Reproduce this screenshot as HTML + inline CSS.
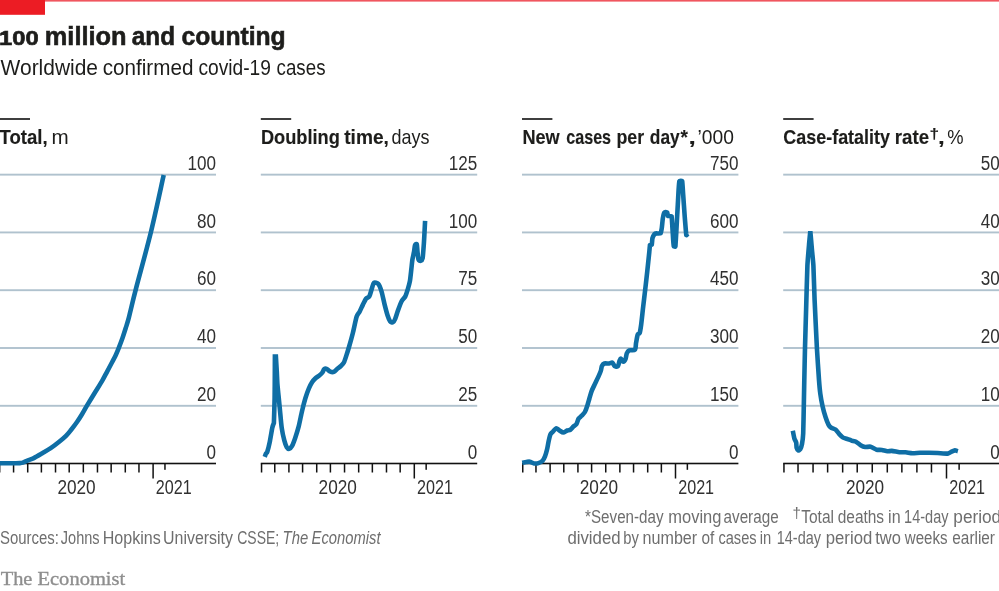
<!DOCTYPE html>
<html lang="en"><head><meta charset="utf-8"><title>100 million and counting</title>
<style>html,body{margin:0;padding:0;background:#fff}body{width:999px;height:591px;overflow:hidden}svg{display:block;will-change:transform;font-family:"Liberation Sans",sans-serif}</style></head><body>
<svg width="999" height="591" viewBox="0 0 999 591">
<rect width="999" height="591" fill="#fff"/>
<rect x="0" y="0" width="999" height="1.6" fill="#f0565f"/>
<rect x="0" y="0" width="45" height="14.8" fill="#ec1c24"/>
<text x="-1.0" y="44.6" font-size="19.4" fill="#1d1d1b" stroke="#1d1d1b" stroke-width="0.6" textLength="39.6" lengthAdjust="spacingAndGlyphs" font-weight="bold">100</text>
<text x="44.8" y="44.6" font-size="25.5" fill="#1d1d1b" stroke="#1d1d1b" stroke-width="0.6" textLength="81.8" lengthAdjust="spacingAndGlyphs" font-weight="bold">million</text>
<text x="131.8" y="44.6" font-size="25.5" fill="#1d1d1b" stroke="#1d1d1b" stroke-width="0.6" textLength="43.2" lengthAdjust="spacingAndGlyphs" font-weight="bold">and</text>
<text x="181.5" y="44.6" font-size="25.5" fill="#1d1d1b" stroke="#1d1d1b" stroke-width="0.6" textLength="104.2" lengthAdjust="spacingAndGlyphs" font-weight="bold">counting</text>
<text x="0.6" y="74.8" font-size="21.7" fill="#1d1d1b" textLength="97.4" lengthAdjust="spacingAndGlyphs">Worldwide</text>
<text x="102.7" y="74.8" font-size="21.7" fill="#1d1d1b" textLength="90.7" lengthAdjust="spacingAndGlyphs">confirmed</text>
<text x="198.4" y="74.8" font-size="21.7" fill="#1d1d1b" textLength="72.5" lengthAdjust="spacingAndGlyphs">covid-19</text>
<text x="276.6" y="74.8" font-size="21.7" fill="#1d1d1b" textLength="48.9" lengthAdjust="spacingAndGlyphs">cases</text>
<text x="-0.5" y="144.4" font-size="20.2" fill="#1d1d1b" stroke="#1d1d1b" stroke-width="0.15" textLength="48.1" lengthAdjust="spacingAndGlyphs" font-weight="bold">Total,</text>
<text x="51.4" y="144.4" font-size="20.2" fill="#1d1d1b" textLength="17.2" lengthAdjust="spacingAndGlyphs">m</text>
<text x="260.9" y="144.4" font-size="20.2" fill="#1d1d1b" stroke="#1d1d1b" stroke-width="0.15" textLength="78.9" lengthAdjust="spacingAndGlyphs" font-weight="bold">Doubling</text>
<text x="344.2" y="144.4" font-size="20.2" fill="#1d1d1b" stroke="#1d1d1b" stroke-width="0.15" textLength="44.7" lengthAdjust="spacingAndGlyphs" font-weight="bold">time,</text>
<text x="391.6" y="144.4" font-size="20.2" fill="#1d1d1b" textLength="38.0" lengthAdjust="spacingAndGlyphs">days</text>
<text x="522.4" y="144.4" font-size="20.2" fill="#1d1d1b" stroke="#1d1d1b" stroke-width="0.15" textLength="37.3" lengthAdjust="spacingAndGlyphs" font-weight="bold">New</text>
<text x="566.2" y="144.4" font-size="20.2" fill="#1d1d1b" stroke="#1d1d1b" stroke-width="0.15" textLength="44.9" lengthAdjust="spacingAndGlyphs" font-weight="bold">cases</text>
<text x="616.4" y="144.4" font-size="20.2" fill="#1d1d1b" stroke="#1d1d1b" stroke-width="0.15" textLength="27.7" lengthAdjust="spacingAndGlyphs" font-weight="bold">per</text>
<text x="649.8" y="144.4" font-size="20.2" fill="#1d1d1b" stroke="#1d1d1b" stroke-width="0.15" textLength="29.9" lengthAdjust="spacingAndGlyphs" font-weight="bold">day</text>
<text x="680.5" y="144.4" font-size="20.2" fill="#1d1d1b" stroke="#1d1d1b" stroke-width="0.15" textLength="7.4" lengthAdjust="spacingAndGlyphs" font-weight="bold">*</text>
<text x="688.6" y="144.4" font-size="20.2" fill="#1d1d1b" stroke="#1d1d1b" stroke-width="0.15" textLength="7.3" lengthAdjust="spacingAndGlyphs" font-weight="bold">,</text>
<text x="697.5" y="144.4" font-size="20.2" fill="#1d1d1b" textLength="36.4" lengthAdjust="spacingAndGlyphs">’000</text>
<text x="783.3" y="144.4" font-size="20.2" fill="#1d1d1b" stroke="#1d1d1b" stroke-width="0.15" textLength="106.7" lengthAdjust="spacingAndGlyphs" font-weight="bold">Case-fatality</text>
<text x="894.8" y="144.4" font-size="20.2" fill="#1d1d1b" stroke="#1d1d1b" stroke-width="0.15" textLength="34.3" lengthAdjust="spacingAndGlyphs" font-weight="bold">rate</text>
<text x="929.4" y="138.6" font-size="14.5" fill="#1d1d1b" stroke="#1d1d1b" stroke-width="0.15" textLength="9.6" lengthAdjust="spacingAndGlyphs" font-weight="bold">†</text>
<text x="937.9" y="144.4" font-size="20.2" fill="#1d1d1b" stroke="#1d1d1b" stroke-width="0.15" textLength="6.7" lengthAdjust="spacingAndGlyphs" font-weight="bold">,</text>
<text x="947.3" y="144.4" font-size="20.2" fill="#1d1d1b" textLength="16.3" lengthAdjust="spacingAndGlyphs">%</text>
<text x="-0.0" y="544.1" font-size="18.3" fill="#6e6e6e" textLength="59.0" lengthAdjust="spacingAndGlyphs">Sources:</text>
<text x="60.8" y="544.1" font-size="18.3" fill="#6e6e6e" textLength="38.8" lengthAdjust="spacingAndGlyphs">Johns</text>
<text x="102.7" y="544.1" font-size="18.3" fill="#6e6e6e" textLength="58.0" lengthAdjust="spacingAndGlyphs">Hopkins</text>
<text x="163.1" y="544.1" font-size="18.3" fill="#6e6e6e" textLength="69.9" lengthAdjust="spacingAndGlyphs">University</text>
<text x="237.2" y="544.1" font-size="18.3" fill="#6e6e6e" textLength="42.0" lengthAdjust="spacingAndGlyphs">CSSE;</text>
<text x="282.6" y="544.1" font-size="18.3" fill="#6e6e6e" textLength="25.6" lengthAdjust="spacingAndGlyphs" font-style="italic">The</text>
<text x="311.6" y="544.1" font-size="18.3" fill="#6e6e6e" textLength="68.9" lengthAdjust="spacingAndGlyphs" font-style="italic">Economist</text>
<text x="585.1" y="523.3" font-size="18.3" fill="#6e6e6e" textLength="78.4" lengthAdjust="spacingAndGlyphs">*Seven-day</text>
<text x="668.3" y="523.3" font-size="18.3" fill="#6e6e6e" textLength="53.1" lengthAdjust="spacingAndGlyphs">moving</text>
<text x="723.5" y="523.3" font-size="18.3" fill="#6e6e6e" textLength="55.2" lengthAdjust="spacingAndGlyphs">average</text>
<text x="801.2" y="523.3" font-size="18.3" fill="#6e6e6e" textLength="32.8" lengthAdjust="spacingAndGlyphs">Total</text>
<text x="837.7" y="523.3" font-size="18.3" fill="#6e6e6e" textLength="46.4" lengthAdjust="spacingAndGlyphs">deaths</text>
<text x="888.1" y="523.3" font-size="18.3" fill="#6e6e6e" textLength="12.5" lengthAdjust="spacingAndGlyphs">in</text>
<text x="904.1" y="523.3" font-size="18.3" fill="#6e6e6e" textLength="44.4" lengthAdjust="spacingAndGlyphs">14-day</text>
<text x="953.3" y="523.3" font-size="18.3" fill="#6e6e6e" textLength="47.9" lengthAdjust="spacingAndGlyphs">period</text>
<text x="792.5" y="518.4" font-size="14" fill="#6e6e6e" textLength="8.4" lengthAdjust="spacingAndGlyphs">†</text>
<text x="567.4" y="544.1" font-size="18.3" fill="#6e6e6e" textLength="53.2" lengthAdjust="spacingAndGlyphs">divided</text>
<text x="623.3" y="544.1" font-size="18.3" fill="#6e6e6e" textLength="15.6" lengthAdjust="spacingAndGlyphs">by</text>
<text x="642.6" y="544.1" font-size="18.3" fill="#6e6e6e" textLength="54.6" lengthAdjust="spacingAndGlyphs">number</text>
<text x="701.4" y="544.1" font-size="18.3" fill="#6e6e6e" textLength="12.8" lengthAdjust="spacingAndGlyphs">of</text>
<text x="718.4" y="544.1" font-size="18.3" fill="#6e6e6e" textLength="38.2" lengthAdjust="spacingAndGlyphs">cases</text>
<text x="759.8" y="544.1" font-size="18.3" fill="#6e6e6e" textLength="11.5" lengthAdjust="spacingAndGlyphs">in</text>
<text x="776.8" y="544.1" font-size="18.3" fill="#6e6e6e" textLength="44.2" lengthAdjust="spacingAndGlyphs">14-day</text>
<text x="825.8" y="544.1" font-size="18.3" fill="#6e6e6e" textLength="46.4" lengthAdjust="spacingAndGlyphs">period</text>
<text x="875.3" y="544.1" font-size="18.3" fill="#6e6e6e" textLength="25.6" lengthAdjust="spacingAndGlyphs">two</text>
<text x="904.8" y="544.1" font-size="18.3" fill="#6e6e6e" textLength="42.7" lengthAdjust="spacingAndGlyphs">weeks</text>
<text x="952.3" y="544.1" font-size="18.3" fill="#6e6e6e" textLength="42.7" lengthAdjust="spacingAndGlyphs">earlier</text>
<text x="0.7" y="585.4" font-size="19.6" fill="#8e8e8e" font-family="'Liberation Serif', serif" stroke="#8e8e8e" stroke-width="0.35" textLength="31.7" lengthAdjust="spacingAndGlyphs">The</text>
<text x="37.5" y="585.4" font-size="19.6" fill="#8e8e8e" font-family="'Liberation Serif', serif" stroke="#8e8e8e" stroke-width="0.35" textLength="87.7" lengthAdjust="spacingAndGlyphs">Economist</text>
<rect x="-0.4" y="118.2" width="30.4" height="1.6" fill="#111"/>
<rect x="260.8" y="118.2" width="30.4" height="1.6" fill="#111"/>
<rect x="522.0" y="118.2" width="30.4" height="1.6" fill="#111"/>
<rect x="783.2" y="118.2" width="30.4" height="1.6" fill="#111"/>
<rect x="-0.4" y="173.70" width="216.4" height="1.9" fill="#b0c2ce"/>
<rect x="-0.4" y="231.48" width="216.4" height="1.9" fill="#b0c2ce"/>
<rect x="-0.4" y="289.25" width="216.4" height="1.9" fill="#b0c2ce"/>
<rect x="-0.4" y="347.05" width="216.4" height="1.9" fill="#b0c2ce"/>
<rect x="-0.4" y="404.85" width="216.4" height="1.9" fill="#b0c2ce"/>
<text x="187.6" y="169.8" font-size="19.3" fill="#303030" textLength="28.5" lengthAdjust="spacingAndGlyphs">100</text>
<text x="197.1" y="227.6" font-size="19.3" fill="#303030" textLength="19.0" lengthAdjust="spacingAndGlyphs">80</text>
<text x="197.1" y="285.4" font-size="19.3" fill="#303030" textLength="19.0" lengthAdjust="spacingAndGlyphs">60</text>
<text x="197.1" y="343.2" font-size="19.3" fill="#303030" textLength="19.0" lengthAdjust="spacingAndGlyphs">40</text>
<text x="197.1" y="401.0" font-size="19.3" fill="#303030" textLength="19.0" lengthAdjust="spacingAndGlyphs">20</text>
<text x="206.6" y="458.8" font-size="19.3" fill="#303030" textLength="9.5" lengthAdjust="spacingAndGlyphs">0</text>
<rect x="-0.4" y="462.70" width="216.4" height="1.6" fill="#111"/>
<rect x="0" y="463.50" width="1" height="9.0" fill="#9a9a9a"/>
<rect x="12.82" y="463.50" width="1.5" height="9.0" fill="#111"/>
<rect x="26.96" y="463.50" width="1.5" height="9.0" fill="#111"/>
<rect x="40.64" y="463.50" width="1.5" height="9.0" fill="#111"/>
<rect x="54.77" y="463.50" width="1.5" height="9.0" fill="#111"/>
<rect x="68.45" y="463.50" width="1.5" height="9.0" fill="#111"/>
<rect x="82.59" y="463.50" width="1.5" height="9.0" fill="#111"/>
<rect x="96.72" y="463.50" width="1.5" height="9.0" fill="#111"/>
<rect x="110.40" y="463.50" width="1.5" height="9.0" fill="#111"/>
<rect x="124.54" y="463.50" width="1.5" height="9.0" fill="#111"/>
<rect x="138.21" y="463.50" width="1.5" height="9.0" fill="#111"/>
<rect x="152.35" y="463.50" width="1.5" height="15.0" fill="#111"/>
<rect x="164.21" y="463.50" width="1.5" height="6.3" fill="#111"/>
<text x="57.4" y="493.5" font-size="19.3" fill="#303030" textLength="38.3" lengthAdjust="spacingAndGlyphs">2020</text>
<text x="155.8" y="493.5" font-size="19.3" fill="#303030" textLength="35.9" lengthAdjust="spacingAndGlyphs">2021</text>
<path d="M-1.00,463.30C0.50,463.30 5.17,463.30 8.00,463.30C10.83,463.30 14.00,463.33 16.00,463.30C18.00,463.27 18.87,463.22 20.00,463.10C21.13,462.98 21.48,463.05 22.80,462.60C24.12,462.15 26.07,461.15 27.90,460.40C29.73,459.65 31.40,459.28 33.80,458.10C36.20,456.92 39.48,454.95 42.30,453.30C45.12,451.65 47.88,450.12 50.70,448.20C53.52,446.28 56.65,443.85 59.20,441.80C61.75,439.75 64.03,437.87 66.00,435.90C67.97,433.93 69.17,432.32 71.00,430.00C72.83,427.68 75.17,424.63 77.00,422.00C78.83,419.37 80.37,416.88 82.00,414.20C83.63,411.52 84.72,409.38 86.80,405.90C88.88,402.42 91.97,397.43 94.50,393.30C97.03,389.17 99.92,384.68 102.00,381.10C104.08,377.52 105.30,374.98 107.00,371.80C108.70,368.62 110.75,364.77 112.20,362.00C113.65,359.23 114.62,357.52 115.70,355.20C116.78,352.88 117.57,350.97 118.70,348.10C119.83,345.23 121.32,341.38 122.50,338.00C123.68,334.62 124.83,330.85 125.80,327.80C126.77,324.75 127.48,322.67 128.30,319.70C129.12,316.73 129.45,315.07 130.70,310.00C131.95,304.93 132.42,302.35 135.80,289.30C139.18,276.25 146.35,250.73 151.00,231.70C155.65,212.67 161.58,184.53 163.70,175.10" fill="none" stroke="#0f6ea5" stroke-width="4.6" stroke-linejoin="round" stroke-miterlimit="1.6" stroke-linecap="butt"/>
<rect x="260.8" y="173.70" width="216.4" height="1.9" fill="#b0c2ce"/>
<rect x="260.8" y="231.48" width="216.4" height="1.9" fill="#b0c2ce"/>
<rect x="260.8" y="289.25" width="216.4" height="1.9" fill="#b0c2ce"/>
<rect x="260.8" y="347.05" width="216.4" height="1.9" fill="#b0c2ce"/>
<rect x="260.8" y="404.85" width="216.4" height="1.9" fill="#b0c2ce"/>
<text x="448.8" y="169.8" font-size="19.3" fill="#303030" textLength="28.5" lengthAdjust="spacingAndGlyphs">125</text>
<text x="448.8" y="227.6" font-size="19.3" fill="#303030" textLength="28.5" lengthAdjust="spacingAndGlyphs">100</text>
<text x="458.3" y="285.4" font-size="19.3" fill="#303030" textLength="19.0" lengthAdjust="spacingAndGlyphs">75</text>
<text x="458.3" y="343.2" font-size="19.3" fill="#303030" textLength="19.0" lengthAdjust="spacingAndGlyphs">50</text>
<text x="458.3" y="401.0" font-size="19.3" fill="#303030" textLength="19.0" lengthAdjust="spacingAndGlyphs">25</text>
<text x="467.8" y="458.8" font-size="19.3" fill="#303030" textLength="9.5" lengthAdjust="spacingAndGlyphs">0</text>
<rect x="260.8" y="462.70" width="216.4" height="1.6" fill="#111"/>
<rect x="260.80" y="463.50" width="1.5" height="9.0" fill="#111"/>
<rect x="274.02" y="463.50" width="1.5" height="9.0" fill="#111"/>
<rect x="288.16" y="463.50" width="1.5" height="9.0" fill="#111"/>
<rect x="301.84" y="463.50" width="1.5" height="9.0" fill="#111"/>
<rect x="315.97" y="463.50" width="1.5" height="9.0" fill="#111"/>
<rect x="329.65" y="463.50" width="1.5" height="9.0" fill="#111"/>
<rect x="343.79" y="463.50" width="1.5" height="9.0" fill="#111"/>
<rect x="357.92" y="463.50" width="1.5" height="9.0" fill="#111"/>
<rect x="371.60" y="463.50" width="1.5" height="9.0" fill="#111"/>
<rect x="385.74" y="463.50" width="1.5" height="9.0" fill="#111"/>
<rect x="399.41" y="463.50" width="1.5" height="9.0" fill="#111"/>
<rect x="413.55" y="463.50" width="1.5" height="15.0" fill="#111"/>
<rect x="425.41" y="463.50" width="1.5" height="6.3" fill="#111"/>
<text x="318.6" y="493.5" font-size="19.3" fill="#303030" textLength="38.3" lengthAdjust="spacingAndGlyphs">2020</text>
<text x="417.0" y="493.5" font-size="19.3" fill="#303030" textLength="35.9" lengthAdjust="spacingAndGlyphs">2021</text>
<path d="M264.70,456.90C264.85,456.50 265.70,454.09 266.00,453.50C266.30,452.91 266.86,453.18 267.30,451.80C267.74,450.42 269.22,444.51 269.80,441.70C270.38,438.89 271.82,429.88 272.30,427.70C272.78,425.52 273.90,423.00 273.90,423.00C273.90,423.00 274.50,404.10 274.60,398.50C274.71,392.90 274.77,379.89 274.80,375.00C274.83,370.11 274.90,356.60 274.90,356.60C274.90,356.60 275.90,356.60 275.90,356.60C275.90,356.60 276.62,368.80 276.80,372.00C276.98,375.20 277.20,381.26 277.40,384.00C277.60,386.74 278.21,392.52 278.50,395.50C278.79,398.48 279.53,405.74 279.90,409.50C280.27,413.26 281.19,424.09 281.70,427.70C282.21,431.31 283.70,438.11 284.30,440.40C284.90,442.69 286.22,446.32 286.80,447.30C287.38,448.28 288.71,448.93 289.30,448.80C289.89,448.67 291.21,447.47 291.90,446.20C292.59,444.93 294.41,440.21 295.20,437.90C295.99,435.59 297.91,429.51 298.70,426.40C299.49,423.28 301.23,414.45 302.00,411.20C302.77,407.94 304.50,401.16 305.30,398.50C306.11,395.84 308.09,390.32 308.90,388.40C309.70,386.47 311.43,383.19 312.20,382.00C312.97,380.81 314.71,378.94 315.50,378.20C316.29,377.46 318.21,376.35 319.00,375.70C319.79,375.05 321.70,373.35 322.30,372.60C322.90,371.85 323.60,369.74 324.10,369.30C324.60,368.86 325.92,368.56 326.60,368.80C327.28,369.05 329.06,371.04 329.90,371.40C330.74,371.76 332.90,372.23 333.80,371.90C334.70,371.57 336.77,369.29 337.60,368.60C338.43,367.91 340.16,366.71 340.90,366.00C341.63,365.29 343.26,363.74 343.90,362.50C344.54,361.26 345.80,357.21 346.40,355.40C347.00,353.59 348.25,349.59 349.00,347.00C349.75,344.41 351.91,336.72 352.80,333.20C353.69,329.68 355.81,319.31 356.60,316.80C357.39,314.29 358.87,313.12 359.60,311.70C360.34,310.28 362.13,306.14 362.90,304.60C363.67,303.06 365.45,299.46 366.20,298.50C366.95,297.54 368.65,297.53 369.30,296.40C369.95,295.27 371.26,290.40 371.80,288.80C372.34,287.20 373.15,283.28 373.90,282.70C374.65,282.12 377.31,282.79 378.20,283.80C379.09,284.81 380.76,289.03 381.50,291.40C382.24,293.77 383.79,301.29 384.50,304.10C385.21,306.91 386.95,313.49 387.60,315.50C388.25,317.51 389.48,320.51 390.10,321.30C390.72,322.09 392.31,322.59 392.90,322.30C393.49,322.01 394.60,320.19 395.20,318.80C395.80,317.41 397.26,312.42 398.00,310.40C398.74,308.38 400.65,303.13 401.50,301.50C402.35,299.87 404.55,297.88 405.30,296.40C406.05,294.92 407.36,290.57 407.90,288.80C408.44,287.03 409.49,283.57 409.90,281.20C410.31,278.83 411.11,271.02 411.40,268.50C411.69,265.98 412.10,261.53 412.40,259.60C412.70,257.68 413.70,253.68 414.00,252.00C414.30,250.32 414.67,246.09 415.00,245.20C415.33,244.31 416.51,243.61 416.80,244.40C417.09,245.19 417.30,250.23 417.50,252.00C417.70,253.77 418.14,258.56 418.50,259.60C418.86,260.64 420.12,261.04 420.60,260.90C421.08,260.76 422.22,260.48 422.60,258.40C422.99,256.32 423.67,246.35 423.90,243.10C424.13,239.84 424.46,233.10 424.60,230.50C424.74,227.90 425.04,221.93 425.10,220.80" fill="none" stroke="#0f6ea5" stroke-width="4.6" stroke-linejoin="miter" stroke-miterlimit="1.6" stroke-linecap="butt"/>
<rect x="522.0" y="173.70" width="216.4" height="1.9" fill="#b0c2ce"/>
<rect x="522.0" y="231.48" width="216.4" height="1.9" fill="#b0c2ce"/>
<rect x="522.0" y="289.25" width="216.4" height="1.9" fill="#b0c2ce"/>
<rect x="522.0" y="347.05" width="216.4" height="1.9" fill="#b0c2ce"/>
<rect x="522.0" y="404.85" width="216.4" height="1.9" fill="#b0c2ce"/>
<text x="710.0" y="169.8" font-size="19.3" fill="#303030" textLength="28.5" lengthAdjust="spacingAndGlyphs">750</text>
<text x="710.0" y="227.6" font-size="19.3" fill="#303030" textLength="28.5" lengthAdjust="spacingAndGlyphs">600</text>
<text x="710.0" y="285.4" font-size="19.3" fill="#303030" textLength="28.5" lengthAdjust="spacingAndGlyphs">450</text>
<text x="710.0" y="343.2" font-size="19.3" fill="#303030" textLength="28.5" lengthAdjust="spacingAndGlyphs">300</text>
<text x="710.0" y="401.0" font-size="19.3" fill="#303030" textLength="28.5" lengthAdjust="spacingAndGlyphs">150</text>
<text x="729.0" y="458.8" font-size="19.3" fill="#303030" textLength="9.5" lengthAdjust="spacingAndGlyphs">0</text>
<rect x="522.0" y="462.70" width="216.4" height="1.6" fill="#111"/>
<rect x="522.00" y="463.50" width="1.5" height="9.0" fill="#111"/>
<rect x="535.22" y="463.50" width="1.5" height="9.0" fill="#111"/>
<rect x="549.36" y="463.50" width="1.5" height="9.0" fill="#111"/>
<rect x="563.04" y="463.50" width="1.5" height="9.0" fill="#111"/>
<rect x="577.17" y="463.50" width="1.5" height="9.0" fill="#111"/>
<rect x="590.85" y="463.50" width="1.5" height="9.0" fill="#111"/>
<rect x="604.99" y="463.50" width="1.5" height="9.0" fill="#111"/>
<rect x="619.12" y="463.50" width="1.5" height="9.0" fill="#111"/>
<rect x="632.80" y="463.50" width="1.5" height="9.0" fill="#111"/>
<rect x="646.94" y="463.50" width="1.5" height="9.0" fill="#111"/>
<rect x="660.61" y="463.50" width="1.5" height="9.0" fill="#111"/>
<rect x="674.75" y="463.50" width="1.5" height="15.0" fill="#111"/>
<rect x="686.61" y="463.50" width="1.5" height="6.3" fill="#111"/>
<text x="579.8" y="493.5" font-size="19.3" fill="#303030" textLength="38.3" lengthAdjust="spacingAndGlyphs">2020</text>
<text x="678.2" y="493.5" font-size="19.3" fill="#303030" textLength="35.9" lengthAdjust="spacingAndGlyphs">2021</text>
<path d="M522.20,462.80C522.77,462.69 525.49,462.15 526.50,462.00C527.51,461.85 528.79,461.51 529.80,461.70C530.81,461.89 532.95,463.21 534.10,463.40C535.25,463.59 537.28,463.43 538.40,463.10C539.52,462.77 541.62,461.79 542.50,460.90C543.38,460.01 544.39,457.95 545.00,456.40C545.61,454.85 546.59,451.43 547.10,449.30C547.61,447.17 548.33,442.43 548.80,440.40C549.27,438.37 550.03,435.29 550.60,434.10C551.17,432.91 552.35,432.29 553.10,431.50C553.85,430.71 555.35,428.33 556.20,428.20C557.05,428.07 558.55,429.93 559.50,430.50C560.45,431.07 562.29,432.50 563.30,432.50C564.31,432.50 566.15,430.87 567.10,430.50C568.05,430.13 569.55,430.25 570.40,429.70C571.25,429.15 572.69,427.17 573.50,426.40C574.31,425.63 575.83,424.91 576.50,423.90C577.17,422.89 577.82,419.88 578.50,418.80C579.18,417.72 580.75,416.71 581.60,415.80C582.45,414.89 584.13,413.39 584.90,412.00C585.67,410.61 586.80,407.20 587.40,405.40C588.00,403.60 588.83,400.43 589.40,398.50C589.97,396.57 590.95,392.86 591.70,390.90C592.45,388.94 594.12,385.67 595.00,383.80C595.88,381.93 597.51,378.66 598.30,376.90C599.09,375.14 600.42,372.05 600.90,370.60C601.38,369.15 601.43,366.95 601.90,366.00C602.37,365.05 603.45,363.83 604.40,363.50C605.35,363.17 607.95,363.63 609.00,363.50C610.05,363.37 611.55,362.17 612.30,362.50C613.05,362.83 613.85,365.49 614.60,366.00C615.35,366.51 617.23,367.03 617.90,366.30C618.57,365.57 619.20,361.51 619.60,360.50C620.00,359.49 620.42,358.54 620.90,358.70C621.38,358.86 622.59,361.63 623.20,361.70C623.81,361.77 625.02,360.31 625.50,359.20C625.98,358.09 626.29,354.59 626.80,353.40C627.31,352.21 628.22,350.78 629.30,350.30C630.38,349.82 633.99,350.81 634.90,349.80C635.81,348.79 635.73,344.73 636.10,342.70C636.47,340.67 637.22,335.89 637.70,334.60C638.18,333.31 639.23,334.36 639.70,333.00C640.17,331.64 640.73,327.92 641.20,324.40C641.67,320.88 642.65,311.35 643.20,306.60C643.75,301.85 645.13,290.28 645.30,288.80C645.47,287.32 647.13,272.63 647.30,271.10C647.47,269.57 649.19,253.10 649.30,252.00C649.41,250.90 649.90,245.11 650.00,244.80C650.10,244.49 651.70,244.87 651.80,244.60C651.90,244.33 652.29,238.83 652.40,238.40C652.51,237.97 654.23,234.41 654.40,234.20C654.57,233.99 656.24,233.43 656.50,233.40C656.76,233.37 660.38,233.62 660.60,233.40C660.82,233.18 661.71,228.62 661.80,228.00C661.89,227.38 662.70,219.13 662.80,218.50C662.90,217.87 664.08,213.07 664.20,212.80C664.32,212.53 665.48,212.02 665.60,212.00C665.73,211.98 667.10,212.23 667.20,212.40C667.30,212.57 667.82,215.84 668.00,216.00C668.18,216.16 671.42,215.78 671.60,216.20C671.78,216.62 672.23,225.01 672.30,226.00C672.37,226.99 673.14,239.16 673.20,240.00C673.26,240.84 673.71,245.93 673.80,246.20C673.89,246.47 675.30,246.99 675.40,246.40C675.50,245.81 676.21,233.52 676.30,232.00C676.39,230.48 677.40,211.75 677.50,210.00C677.60,208.25 678.52,191.20 678.60,190.00C678.68,188.80 679.25,181.57 679.40,181.20C679.55,180.83 682.04,180.62 682.20,181.20C682.36,181.77 683.10,193.59 683.20,195.00C683.30,196.41 684.47,213.33 684.60,215.00C684.73,216.67 686.17,234.22 686.30,235.00C686.43,235.78 687.74,233.66 687.80,233.60" fill="none" stroke="#0f6ea5" stroke-width="4.6" stroke-linejoin="miter" stroke-miterlimit="1.6" stroke-linecap="butt"/>
<rect x="783.2" y="173.70" width="216.4" height="1.9" fill="#b0c2ce"/>
<rect x="783.2" y="231.48" width="216.4" height="1.9" fill="#b0c2ce"/>
<rect x="783.2" y="289.25" width="216.4" height="1.9" fill="#b0c2ce"/>
<rect x="783.2" y="347.05" width="216.4" height="1.9" fill="#b0c2ce"/>
<rect x="783.2" y="404.85" width="216.4" height="1.9" fill="#b0c2ce"/>
<text x="980.7" y="169.8" font-size="19.3" fill="#303030" textLength="19.0" lengthAdjust="spacingAndGlyphs">50</text>
<text x="980.7" y="227.6" font-size="19.3" fill="#303030" textLength="19.0" lengthAdjust="spacingAndGlyphs">40</text>
<text x="980.7" y="285.4" font-size="19.3" fill="#303030" textLength="19.0" lengthAdjust="spacingAndGlyphs">30</text>
<text x="980.7" y="343.2" font-size="19.3" fill="#303030" textLength="19.0" lengthAdjust="spacingAndGlyphs">20</text>
<text x="980.7" y="401.0" font-size="19.3" fill="#303030" textLength="19.0" lengthAdjust="spacingAndGlyphs">10</text>
<text x="990.2" y="458.8" font-size="19.3" fill="#303030" textLength="9.5" lengthAdjust="spacingAndGlyphs">0</text>
<rect x="783.2" y="462.70" width="216.4" height="1.6" fill="#111"/>
<rect x="783.20" y="463.50" width="1.5" height="9.0" fill="#111"/>
<rect x="797.27" y="463.50" width="1.5" height="9.0" fill="#111"/>
<rect x="812.31" y="463.50" width="1.5" height="9.0" fill="#111"/>
<rect x="826.87" y="463.50" width="1.5" height="9.0" fill="#111"/>
<rect x="841.91" y="463.50" width="1.5" height="9.0" fill="#111"/>
<rect x="856.47" y="463.50" width="1.5" height="9.0" fill="#111"/>
<rect x="871.51" y="463.50" width="1.5" height="9.0" fill="#111"/>
<rect x="886.55" y="463.50" width="1.5" height="9.0" fill="#111"/>
<rect x="901.11" y="463.50" width="1.5" height="9.0" fill="#111"/>
<rect x="916.15" y="463.50" width="1.5" height="9.0" fill="#111"/>
<rect x="930.71" y="463.50" width="1.5" height="9.0" fill="#111"/>
<rect x="945.75" y="463.50" width="1.5" height="15.0" fill="#111"/>
<rect x="958.37" y="463.50" width="1.5" height="6.3" fill="#111"/>
<text x="845.9" y="493.5" font-size="19.3" fill="#303030" textLength="38.3" lengthAdjust="spacingAndGlyphs">2020</text>
<text x="949.2" y="493.5" font-size="19.3" fill="#303030" textLength="35.9" lengthAdjust="spacingAndGlyphs">2021</text>
<path d="M792.80,430.70C792.93,431.36 794.12,437.62 794.40,438.60C794.68,439.58 796.02,441.63 796.20,442.40C796.38,443.17 796.43,447.13 796.60,447.80C796.77,448.47 797.90,450.27 798.20,450.40C798.50,450.52 799.88,449.83 800.20,449.30C800.52,448.77 801.75,445.33 802.00,444.00C802.25,442.67 803.05,436.48 803.20,433.30C803.35,430.12 803.71,410.34 803.80,405.90C803.89,401.46 804.20,384.82 804.30,380.00C804.40,375.18 804.85,353.85 805.00,348.00C805.15,342.15 805.90,316.66 806.10,309.80C806.30,302.94 807.14,271.28 807.40,265.70C807.66,260.12 808.96,245.67 809.20,242.80C809.44,239.93 810.30,231.30 810.30,231.30C810.30,231.30 810.96,238.40 811.10,240.00C811.24,241.60 811.81,248.36 812.00,250.50C812.19,252.64 813.18,261.57 813.40,265.70C813.62,269.82 814.31,293.14 814.60,300.00C814.89,306.86 816.53,341.33 816.90,348.00C817.27,354.67 818.72,376.19 819.00,380.00C819.28,383.81 820.01,391.54 820.30,393.70C820.59,395.86 822.06,403.93 822.50,405.90C822.94,407.87 825.09,415.72 825.60,417.30C826.11,418.88 828.16,424.05 828.60,424.90C829.04,425.75 830.32,427.12 830.90,427.50C831.48,427.88 834.80,428.95 835.50,429.50C836.20,430.05 838.67,433.43 839.30,434.10C839.93,434.78 842.40,437.18 843.10,437.60C843.80,438.02 847.00,438.85 847.70,439.10C848.40,439.35 850.81,440.38 851.50,440.60C852.19,440.82 855.24,441.32 856.00,441.70C856.76,442.08 859.83,444.76 860.60,445.20C861.37,445.64 864.38,446.88 865.20,447.00C866.03,447.12 869.55,446.47 870.50,446.70C871.45,446.93 875.65,449.43 876.60,449.70C877.55,449.97 881.01,449.87 881.90,450.00C882.79,450.13 886.47,451.23 887.30,451.30C888.12,451.38 890.79,450.82 891.80,450.90C892.81,450.97 898.26,452.08 899.40,452.20C900.54,452.32 904.42,452.22 905.50,452.30C906.58,452.38 911.19,453.16 912.40,453.20C913.61,453.24 918.62,452.83 920.00,452.80C921.38,452.77 927.53,452.78 929.00,452.80C930.47,452.82 936.03,452.93 937.60,453.00C939.17,453.07 946.63,453.71 947.80,453.60C948.97,453.49 951.01,451.97 951.60,451.70C952.19,451.43 954.38,450.44 954.90,450.40C955.42,450.36 957.65,451.13 957.90,451.20" fill="none" stroke="#0f6ea5" stroke-width="4.6" stroke-linejoin="miter" stroke-miterlimit="1.6" stroke-linecap="butt"/>
</svg></body></html>
